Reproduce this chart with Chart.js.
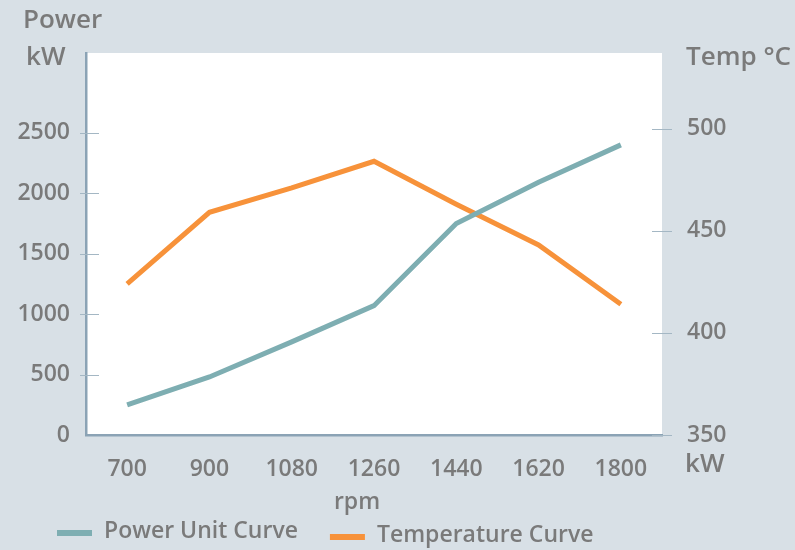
<html lang="en">
<head>
  <meta charset="UTF-8">
  <title>Power and temperature curves</title>
  <script src="https://cdn.jsdelivr.net/npm/chart.js"></script>
  <style>
    html, body { margin: 0; padding: 0; background: #d8e0e6; }
    #wrap { width: 795px; height: 550px; }
  </style>
</head>
<body>
  <div id="wrap"><canvas id="viz" width="795" height="550"></canvas></div>
  <script>
    // data
    const rpm = ['700', '900', '1080', '1260', '1440', '1620', '1800']
    const powerKw = [250, 480, 770, 1070, 1750, 2090, 2400]
    const tempC = [424, 459, 471, 484, 463, 443, 414]
    const powerTicks = [0, 500, 1000, 1500, 2000, 2500]
    const tempTicks = [350, 400, 450, 500]

    const textColor = '#7a7a7a'
    const fontFamily = '"Open Sans", "Noto Sans", sans-serif'
    const axisColor = '#8ba3b5'
    const tickColor = '#a4b7c4'

    // white plot background
    const plotBg = {
      id: 'plotBg',
      beforeDraw(chart) {
        const { ctx, chartArea: a } = chart
        ctx.save()
        ctx.fillStyle = '#ffffff'
        ctx.fillRect(a.left, a.top, a.right - a.left, a.bottom - a.top)
        ctx.restore()
      }
    }

    // short tick marks crossing the axes, plus the unit labels and legend
    const decorations = {
      id: 'decorations',
      afterDraw(chart) {
        const { ctx, chartArea: a, scales } = chart
        ctx.save()
        ctx.strokeStyle = tickColor
        ctx.lineWidth = 1
        scales.y.ticks.forEach(t => {
          const py = Math.round(scales.y.getPixelForValue(t.value)) + 0.5
          if (t.value === 0) return
          ctx.beginPath(); ctx.moveTo(a.left - 6, py); ctx.lineTo(a.left + 13, py); ctx.stroke()
        })
        scales.y1.ticks.forEach(t => {
          const py = Math.round(scales.y1.getPixelForValue(t.value)) + 0.5
          ctx.beginPath(); ctx.moveTo(a.right - 10, py); ctx.lineTo(a.right + 10, py); ctx.stroke()
        })

        ctx.fillStyle = textColor
        ctx.textBaseline = 'middle'
        ctx.textAlign = 'left'
        ctx.font = '600 26px ' + fontFamily
        ctx.fillText('Power', 23, 21)
        ctx.fillText('kW', 26, 58)
        ctx.fillText('Temp °C', 686, 58)
        ctx.fillText('kW', 685, 465)
        ctx.textAlign = 'center'
        ctx.font = '600 23px ' + fontFamily
        ctx.fillText('rpm', 357, 502)

        // legend
        ctx.font = '600 23px ' + fontFamily
        ctx.textAlign = 'left'
        let x = 57
        chart.data.datasets.forEach((ds, i) => {
          const y = i === 0 ? 533 : 537
          ctx.strokeStyle = ds.borderColor
          ctx.lineWidth = 6
          ctx.beginPath(); ctx.moveTo(x, y); ctx.lineTo(x + 35, y); ctx.stroke()
          ctx.fillStyle = textColor
          ctx.fillText(ds.label, x + 47, y - 2)
          x += 47 + ctx.measureText(ds.label).width + 32
        })
        ctx.restore()
      }
    }

    const tickFont = { family: fontFamily, size: 23, weight: '600' }
    const plain = v => String(v)

    new Chart(document.getElementById('viz'), {
      type: 'line',
      data: {
        labels: rpm,
        datasets: [{
          label: 'Power Unit Curve',
          data: powerKw,
          borderColor: '#7eaeb2',
          backgroundColor: '#7eaeb2',
          borderWidth: 5,
          pointRadius: 0,
          tension: 0,
          yAxisID: 'y'
        }, {
          label: 'Temperature Curve',
          data: tempC,
          borderColor: '#f7923a',
          backgroundColor: '#f7923a',
          borderWidth: 5,
          pointRadius: 0,
          tension: 0,
          yAxisID: 'y1'
        }]
      },
      options: {
        responsive: false,
        animation: false,
        layout: { padding: { top: 53, left: 0, right: 0, bottom: 0 } },
        plugins: {
          legend: { display: false },
          tooltip: { enabled: false }
        },
        scales: {
          x: {
            offset: true,
            grid: { display: false, drawTicks: false },
            border: { display: true, color: axisColor, width: 2.5 },
            ticks: { color: textColor, font: tickFont, padding: 21, maxRotation: 0, autoSkip: false },
            afterFit(s) { s.height = 115 }
          },
          y: {
            position: 'left',
            min: 0,
            max: 3160,
            grid: { display: false, drawTicks: false },
            border: { display: true, color: axisColor, width: 2.5 },
            ticks: { color: textColor, font: tickFont, padding: 16, callback: plain },
            afterBuildTicks(s) { s.ticks = powerTicks.map(v => ({ value: v })) },
            afterFit(s) { s.width = 86 }
          },
          y1: {
            position: 'right',
            min: 350,
            max: 537,
            grid: { display: false, drawTicks: false },
            border: { display: false },
            ticks: { color: textColor, font: tickFont, padding: 25, callback: plain },
            afterBuildTicks(s) { s.ticks = tempTicks.map(v => ({ value: v })) },
            afterFit(s) { s.width = 133 }
          }
        }
      },
      plugins: [plotBg, decorations]
    })
  </script>
</body>
</html>
